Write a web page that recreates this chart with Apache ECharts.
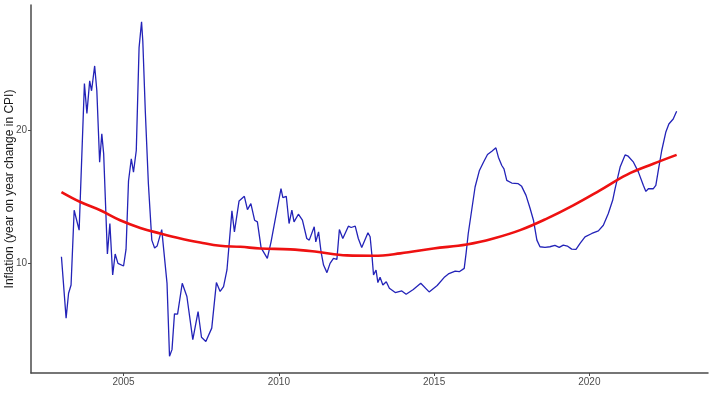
<!DOCTYPE html>
<html>
<head>
<meta charset="utf-8">
<script src="https://cdn.jsdelivr.net/npm/echarts@6/dist/echarts.min.js"></script>
<style>html,body{margin:0;padding:0;background:#fff}#c{width:720px;height:394px}</style>
</head>
<body>
<div id="c"></div>
<script>
// Inflation (year on year change in CPI): [decimal year, value]
const inflationYears = [2003.00,2003.15,2003.23,2003.31,2003.41,2003.57,2003.74,2003.82,2003.91,2003.97,2004.07,2004.14,2004.23,2004.30,2004.36,2004.48,2004.56,2004.65,2004.73,2004.82,2005.00,2005.08,2005.16,2005.25,2005.32,2005.41,2005.50,2005.58,2005.62,2005.70,2005.80,2005.91,2006.00,2006.08,2006.23,2006.40,2006.48,2006.56,2006.64,2006.74,2006.89,2007.04,2007.23,2007.40,2007.51,2007.65,2007.84,2007.99,2008.11,2008.22,2008.33,2008.49,2008.57,2008.72,2008.89,2008.99,2009.10,2009.22,2009.31,2009.43,2009.63,2009.75,2009.94,2010.07,2010.13,2010.24,2010.33,2010.42,2010.49,2010.63,2010.76,2010.90,2010.98,2011.14,2011.19,2011.28,2011.36,2011.44,2011.55,2011.65,2011.76,2011.87,2011.95,2012.06,2012.24,2012.33,2012.46,2012.56,2012.67,2012.87,2012.94,2013.00,2013.05,2013.13,2013.19,2013.26,2013.35,2013.46,2013.56,2013.75,2013.96,2014.10,2014.33,2014.57,2014.84,2015.10,2015.32,2015.46,2015.68,2015.81,2015.97,2016.03,2016.10,2016.21,2016.32,2016.46,2016.59,2016.72,2016.86,2016.99,2017.07,2017.18,2017.25,2017.34,2017.50,2017.71,2017.82,2017.96,2018.09,2018.20,2018.31,2018.41,2018.57,2018.73,2018.89,2019.03,2019.16,2019.29,2019.43,2019.57,2019.70,2019.86,2020.08,2020.29,2020.45,2020.61,2020.75,2020.83,2020.99,2021.15,2021.25,2021.42,2021.58,2021.74,2021.82,2021.90,2022.06,2022.14,2022.22,2022.33,2022.46,2022.56,2022.70,2022.81];
const inflationValues = [10.5,5.87,7.75,8.37,14.0,12.5,23.55,21.3,23.75,23.0,24.87,23.0,17.62,19.75,18.25,10.7,13.0,9.12,10.7,10.0,9.8,11.05,16.2,17.88,16.87,18.5,26.25,28.2,26.75,21.5,16.0,11.75,11.15,11.3,12.54,8.5,3.0,3.5,6.2,6.17,8.5,7.5,4.25,6.37,4.43,4.12,5.12,8.55,7.88,8.25,9.5,13.95,12.37,14.7,15.05,14.05,14.5,13.25,13.12,11.17,10.37,11.62,14.0,15.62,14.95,15.05,13.0,14.0,13.12,13.7,13.25,11.87,11.75,12.75,11.62,12.37,10.87,9.87,9.3,10.0,10.37,10.3,12.55,11.87,12.8,12.7,12.8,11.87,11.2,12.3,12.0,10.55,9.12,9.5,8.55,8.95,8.37,8.62,8.12,7.8,7.92,7.67,8.03,8.5,7.85,8.33,8.93,9.2,9.42,9.37,9.62,10.75,12.25,14.0,15.75,17.0,17.62,18.2,18.45,18.7,18.0,17.37,17.12,16.25,16.05,16.0,15.8,15.12,14.15,13.25,11.75,11.25,11.2,11.25,11.35,11.2,11.37,11.3,11.07,11.05,11.5,12.0,12.25,12.45,12.87,13.75,14.75,15.65,17.25,18.17,18.07,17.62,16.87,15.87,15.42,15.62,15.62,15.87,17.0,18.5,19.87,20.5,20.87,21.45];
// Smoothed trend (red curve)
const trendYears = [2003.00,2003.61,2004.25,2004.89,2005.54,2006.18,2006.83,2007.47,2008.11,2008.76,2009.40,2010.37,2011.22,2012.19,2013.05,2013.91,2014.98,2016.05,2016.91,2017.77,2018.63,2019.48,2020.34,2021.20,2022.06,2022.81];
const trendValues = [15.37,14.62,14.0,13.25,12.67,12.25,11.87,11.57,11.32,11.25,11.12,11.05,10.87,10.6,10.57,10.75,11.12,11.42,11.87,12.5,13.37,14.37,15.5,16.67,17.5,18.17];
const xTicks = [2005, 2010, 2015, 2020];
const yTicks = [10, 20];
const yTitle = 'Inflation (year on year change in CPI)';

const zip = (a, b) => a.map((x, i) => [x, b[i]]);
const chart = echarts.init(document.getElementById('c'), null, {renderer: 'canvas'});
const axisColor = '#4a4a4a';
const labelStyle = {color: '#4d4d4d', fontSize: 10, fontFamily: 'Liberation Sans, Arial, sans-serif'};
chart.setOption({
  animation: false,
  backgroundColor: '#fff',
  grid: {left: 31, right: 12, top: 5, bottom: 21, containLabel: false, outerBoundsMode: 'none'},
  xAxis: {
    type: 'value', min: 2002.02, max: 2023.82,
    axisLine: {show: true, lineStyle: {color: axisColor, width: 1.5}},
    axisTick: {show: true, length: 3, lineStyle: {color: axisColor}, customValues: xTicks},
    axisLabel: Object.assign({margin: 4, customValues: xTicks, formatter: v => String(v)}, labelStyle),
    splitLine: {show: false}
  },
  yAxis: {
    type: 'value', min: 1.74, max: 29.46,
    name: yTitle, nameLocation: 'middle', nameGap: 15, nameMoveOverlap: false,
    nameTextStyle: {color: '#1a1a1a', fontSize: 12, fontFamily: 'Liberation Sans, Arial, sans-serif'},
    axisLine: {show: true, lineStyle: {color: axisColor, width: 1.5}},
    axisTick: {show: true, length: 3, lineStyle: {color: axisColor}, customValues: yTicks},
    axisLabel: Object.assign({margin: 4, customValues: yTicks}, labelStyle),
    splitLine: {show: false}
  },
  series: [
    {type: 'line', data: zip(inflationYears, inflationValues), showSymbol: false,
     lineStyle: {color: '#2323b8', width: 1.3}, z: 2},
    {type: 'line', data: zip(trendYears, trendValues), showSymbol: false, smooth: 0.4,
     lineStyle: {color: '#ee1111', width: 2.6}, z: 3}
  ]
});
</script>
</body>
</html>
